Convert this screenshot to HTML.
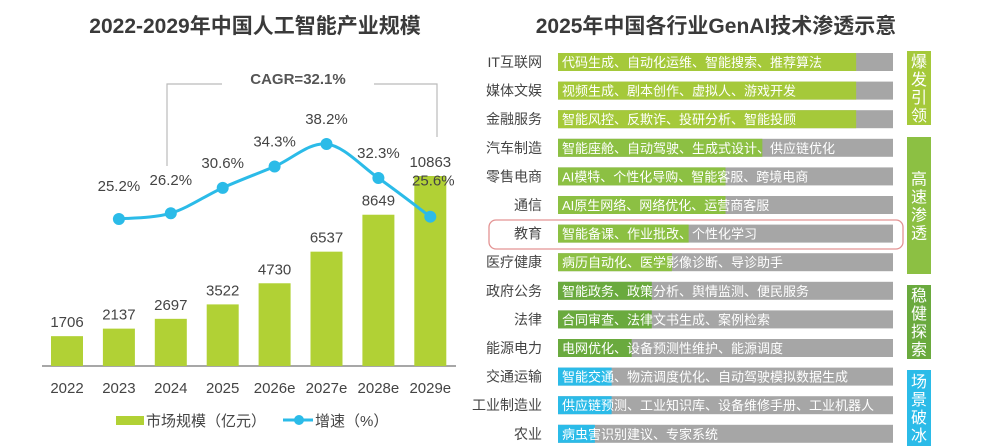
<!DOCTYPE html>
<html><head><meta charset="utf-8"><style>
body{margin:0;width:989px;height:446px;background:#fff;overflow:hidden;font-family:"Liberation Sans","Noto Sans CJK SC",sans-serif;}
svg{position:absolute;left:0;top:0}
</style></head><body>
<svg width="989" height="446">
<text x="255" y="33" text-anchor="middle" font-size="21" font-weight="bold" fill="#3a3a3a">2022-2029年中国人工智能产业规模</text>
<text x="716" y="33" text-anchor="middle" font-size="21" font-weight="bold" fill="#3a3a3a">2025年中国各行业GenAI技术渗透示意</text>
<g id="left"></g>
<g id="right"></g>
</svg>
<script>
const years=["2022","2023","2024","2025","2026e","2027e","2028e","2029e"];
const marketSize=[1706,2137,2697,3522,4730,6537,8649,10863];
const growth=[null,25.2,26.2,30.6,34.3,38.2,32.3,25.6];
const industries=["IT互联网","媒体文娱","金融服务","汽车制造","零售电商","通信","教育","医疗健康","政府公务","法律","能源电力","交通运输","工业制造业","农业"];
const penetration=[89,89,89,61,50,50,39,34,28,28,22,16,16,11];
const applications=["代码生成、自动化运维、智能搜索、推荐算法","视频生成、剧本创作、虚拟人、游戏开发","智能风控、反欺诈、投研分析、智能投顾","智能座舱、自动驾驶、生成式设计、供应链优化","AI模特、个性化导购、智能客服、跨境电商","AI原生网络、网络优化、运营商客服","智能备课、作业批改、个性化学习","病历自动化、医学影像诊断、导诊助手","智能政务、政策分析、舆情监测、便民服务","合同审查、法律文书生成、案例检索","电网优化、设备预测性维护、能源调度","智能交通、物流调度优化、自动驾驶模拟数据生成","供应链预测、工业知识库、设备维修手册、工业机器人","病虫害识别建议、专家系统"];
const tiers=[{name:"爆发引领",from:0,to:2,color:"#a5c93a"},{name:"高速渗透",from:3,to:7,color:"#8cc043"},{name:"稳健探索",from:8,to:10,color:"#6aaa3e"},{name:"场景破冰",from:11,to:13,color:"#2bbbe8"}];
const NS="http://www.w3.org/2000/svg";
function mk(p,t,a,txt){const e=document.createElementNS(NS,t);for(const k in a)e.setAttribute(k,a[k]);if(txt!=null)e.textContent=txt;p.appendChild(e);return e;}
const L=document.getElementById('left');
const x0=67,step=51.9,base=366;
const xS=i=>x0+i*step;
const yB=v=>base-v*190/10863;
const yG=v=>219-(v-25.2)*75/13;
mk(L,'line',{x1:42,y1:base,x2:456,y2:base,stroke:'#8a8a8a','stroke-width':1.5});
years.forEach((y,i)=>{
 const r=mk(L,'rect',{x:xS(i)-16,y:yB(marketSize[i]),width:32,height:base-yB(marketSize[i]),fill:'#b1d135'});
 
 
 const t=mk(L,'text',{x:xS(i),y:yB(marketSize[i])-9,'text-anchor':'middle','font-size':15,fill:'#444'},marketSize[i]);
 
 
 const a=mk(L,'text',{x:xS(i),y:393,'text-anchor':'middle','font-size':15,fill:'#444'},y);
 
 
});
const pts=[];growth.forEach((g,i)=>{if(g!=null)pts.push([xS(i),yG(g)]);});
let d='M'+pts[0][0]+','+pts[0][1];
for(let i=0;i<pts.length-1;i++){const p0=pts[Math.max(0,i-1)],p1=pts[i],p2=pts[i+1],p3=pts[Math.min(pts.length-1,i+2)];
 d+=` C${p1[0]+(p2[0]-p0[0])/6},${p1[1]+(p2[1]-p0[1])/6} ${p2[0]-(p3[0]-p1[0])/6},${p2[1]-(p3[1]-p1[1])/6} ${p2[0]},${p2[1]}`;}
const pl=mk(L,'path',{d:d,fill:'none',stroke:'#2bbbe8','stroke-width':3});


growth.forEach((g,i)=>{if(g==null)return;
 const c=mk(L,'circle',{cx:xS(i),cy:yG(g),r:6,fill:'#2bbbe8'});
 
 
 const t=mk(L,'text',{x:xS(i)+(i==7?3:0),y:yG(g)-(i==7?31:(i==2||i==1?28:20)),'text-anchor':'middle','font-size':15,fill:'#444'},g.toFixed(1)+'%');
 
 
});
mk(L,'path',{d:'M167,166 V84 H222 M374,84 H437 V137',fill:'none',stroke:'#bbb','stroke-width':1.2});
const cg=mk(L,'text',{x:298,y:84,'text-anchor':'middle','font-size':15,'font-weight':'bold',fill:'#555'},'CAGR=32.1%');

const lg1=mk(L,'rect',{x:116,y:416,width:28,height:9,fill:'#b1d135'});

mk(L,'text',{x:146,y:426,'font-size':15,fill:'#444'},'市场规模（亿元）');
mk(L,'line',{x1:283,y1:420,x2:313,y2:420,stroke:'#2bbbe8','stroke-width':3});
const lg2=mk(L,'circle',{cx:299,cy:420,r:5,fill:'#2bbbe8'});

mk(L,'text',{x:315,y:426,'font-size':15,fill:'#444'},'增速（%）');
const R=document.getElementById('right');
const bx=558,bw=335,rowY=i=>62+i*28.6;
const fillCol=i=>{for(const t of tiers)if(i>=t.from&&i<=t.to)return t.color;};
industries.forEach((n,i)=>{
 const cy=rowY(i);
 const lb=mk(R,'text',{x:542,y:cy+5,'text-anchor':'end','font-size':14,fill:'#444'},n);
 
 const bg=mk(R,'rect',{x:bx,y:cy-9,width:bw,height:18,fill:'#a6a6a6'});
 
 const f=mk(R,'rect',{x:bx,y:cy-9,width:bw*penetration[i]/100,height:18,fill:fillCol(i)});
 
 const t=mk(R,'text',{x:bx+4,y:cy+5,'font-size':13,fill:'#fff'},applications[i]);
 
});
const hl=mk(R,'rect',{x:489,y:220,width:414,height:29,rx:7,fill:'none',stroke:'#e39393','stroke-width':1.3});

const tierBounds=[[51,125],[137,274],[285,359],[370,446]];
tiers.forEach((t,k)=>{
 const [a,b]=tierBounds[k];
 const r=mk(R,'rect',{x:907,y:a,width:24,height:b-a,fill:t.color});
 
 const chars=t.name.split('');const mid=(a+b)/2;
 chars.forEach((c,j)=>{mk(R,'text',{x:919,y:mid+(j-1.5)*18+6,'text-anchor':'middle','font-size':16,fill:'#fff'},c);});
});
</script>
</body></html>
